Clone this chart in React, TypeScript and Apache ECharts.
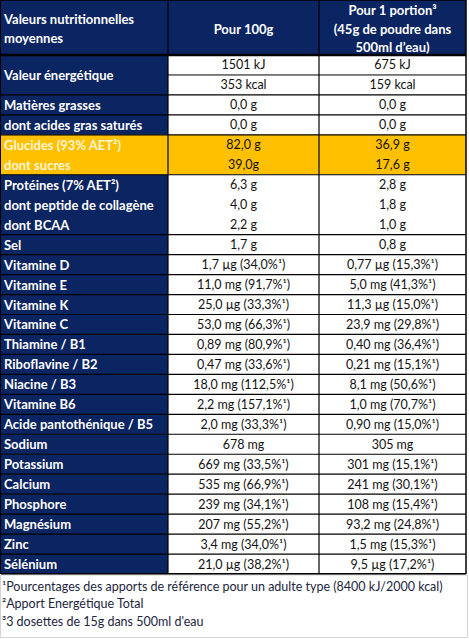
import React, { useEffect, useRef } from "react";
import * as echarts from "echarts";

const headerCols = [
  ["Valeurs nutritionnelles", "moyennes"],
  ["Pour 100g"],
  ["Pour 1 portion³", "(45g de poudre dans", "500ml d’eau)"],
];

// null label = merged with the label above (value cells split)
const rowLabels: (string | null)[] = [
  "Valeur énergétique", null,
  "Matières grasses",
  "dont acides gras saturés",
  "Glucides (93% AET²)", "dont sucres",
  "Protéines (7% AET²)", "dont peptide de collagène", "dont BCAA",
  "Sel",
  "Vitamine D", "Vitamine E", "Vitamine K", "Vitamine C",
  "Thiamine / B1", "Riboflavine / B2", "Niacine / B3", "Vitamine B6",
  "Acide pantothénique / B5", "Sodium", "Potassium", "Calcium",
  "Phosphore", "Magnésium", "Zinc", "Sélénium",
];

const per100g = [
  "1501 kJ", "353 kcal", "0,0 g", "0,0 g", "82,0 g", "39,0g",
  "6,3 g", "4,0 g", "2,2 g", "1,7 g",
  "1,7 µg (34,0%¹)", "11,0 mg (91,7%¹)", "25,0 µg (33,3%¹)", "53,0 mg (66,3%¹)",
  "0,89 mg (80,9%¹)", "0,47 mg (33,6%¹)", "18,0 mg (112,5%¹)", "2,2 mg (157,1%¹)",
  "2,0 mg (33,3%¹)", "678 mg", "669 mg (33,5%¹)", "535 mg (66,9%¹)",
  "239 mg (34,1%¹)", "207 mg (55,2%¹)", "3,4 mg (34,0%¹)", "21,0 µg (38,2%¹)",
];

const perPortion = [
  "675 kJ", "159 kcal", "0,0 g", "0,0 g", "36,9 g", "17,6 g",
  "2,8 g", "1,8 g", "1,0 g", "0,8 g",
  "0,77 µg (15,3%¹)", "5,0 mg (41,3%¹)", "11,3 µg (15,0%¹)", "23,9 mg (29,8%¹)",
  "0,40 mg (36,4%¹)", "0,21 mg (15,1%¹)", "8,1 mg (50,6%¹)", "1,0 mg (70,7%¹)",
  "0,90 mg (15,0%¹)", "305 mg", "301 mg (15,1%¹)", "241 mg (30,1%¹)",
  "108 mg (15,4%¹)", "93,2 mg (24,8%¹)", "1,5 mg (15,3%¹)", "9,5 µg (17,2%¹)",
];

// number of sub-rows in each bordered group
const groupSizes = [2, 1, 1, 2, 3, 1, 1, 1, 1, 1, 1, 1, 1, 1, 1, 1, 1, 1, 1, 1, 1, 1];
const highlightGroup = 3;

const footnotes = [
  "¹Pourcentages des apports de référence pour un adulte type (8400 kJ/2000 kcal)",
  "²Apport Energétique Total",
  "³3 dosettes de 15g dans 500ml d'eau",
];

const NAVY = "#0b2462";
const YELLOW = "#ffc000";
const FONT = "Lato, 'Open Sans', sans-serif";

export default function App() {
  const ref = useRef<HTMLDivElement>(null);
  useEffect(() => {
    document.body.style.margin = "0";
    const chart = echarts.init(ref.current!, null, { renderer: "svg" });
    const colX = [1, 168, 319, 466];
    const headerH = 55;
    const tableBottom = 574;
    const rowH = (tableBottom - headerH) / rowLabels.length;
    const els: any[] = [];
    const rect = (x: number, y: number, w: number, h: number, fill: string) =>
      els.push({ type: "rect", shape: { x, y, width: w, height: h }, style: { fill }, silent: true });
    const line = (x1: number, y1: number, x2: number, y2: number, w = 1, c = "#000") =>
      els.push({ type: "line", shape: { x1, y1, x2, y2 }, style: { stroke: c, lineWidth: w }, silent: true });
    const text = (t: string, x: number, y: number, align: string, bold: boolean, fill: string, size = 12.5) =>
      els.push({
        type: "text", x, y, silent: true,
        style: { text: t, fill, fontFamily: FONT, fontSize: size, fontWeight: bold ? "bold" : "normal", textAlign: align, textVerticalAlign: "middle" },
      });

    // header
    rect(colX[0], 0, colX[3] - colX[0], headerH, NAVY);
    headerCols.forEach((lines, ci) => {
      const n = lines.length;
      const gap = 18.5;
      const y0 = headerH / 2 + 1 - ((n - 1) * gap) / 2;
      lines.forEach((l, li) => {
        if (ci === 0) text(l, 4, y0 + li * gap, "left", true, "#fff", 13);
        else text(l, (colX[ci] + colX[ci + 1]) / 2, y0 + li * gap, "center", true, "#fff", 13);
      });
    });

    // body
    let start = 0;
    groupSizes.forEach((size, gi) => {
      const y = headerH + start * rowH;
      const h = size * rowH;
      const hl = gi === highlightGroup;
      rect(colX[0], y, colX[1] - colX[0], h, hl ? YELLOW : NAVY);
      rect(colX[1], y, colX[3] - colX[1], h, hl ? YELLOW : "#fff");
      for (let k = 0; k < size; k++) {
        const i = start + k;
        const cy = y + (k + 0.5) * rowH;
        const lab = rowLabels[i];
        if (lab !== null) {
          let span = 1;
          while (i + span < rowLabels.length && rowLabels[i + span] === null) span++;
          text(lab, 4, y + (k + span / 2) * rowH, "left", true, hl ? "#fff6d6" : "#fff", 13);
        } else {
          line(colX[1], y + k * rowH, colX[3], y + k * rowH, 1, "#000");
        }
        text(per100g[i], (colX[1] + colX[2]) / 2, cy, "center", false, "#111");
        text(perPortion[i], (colX[2] + colX[3]) / 2, cy, "center", false, "#111");
      }
      line(colX[0], y, colX[3], y, gi === 0 ? 2.5 : 1.2, "#000");
      start += size;
    });
    line(colX[0], tableBottom, colX[3], tableBottom, 2, "#000");
    line(colX[1], 0, colX[1], tableBottom, 1.2, "#000");
    line(colX[2], 0, colX[2], tableBottom, 1.2, "#000");
    line(colX[3], 0, colX[3], tableBottom, 1.5, "#000");
    line(colX[0], 0, colX[3], 0, 1.5, "#000");
    line(0.5, 0, 0.5, tableBottom, 1, "#000");

    // footnotes box
    els.push({
      type: "rect", silent: true,
      shape: { x: 0.5, y: tableBottom + 1, width: 467, height: 638 - tableBottom - 1.5 },
      style: { fill: "#fff", stroke: "#d4d4d4", lineWidth: 1 },
    });
    footnotes.forEach((f, i) => text(f, 2, tableBottom + 12 + i * 17.5, "left", false, "#1c2540", 12.5));

    chart.setOption({ animation: false, graphic: { elements: els } });
    return () => chart.dispose();
  }, []);
  return <div ref={ref} style={{ width: 469, height: 639 }} />;
}
